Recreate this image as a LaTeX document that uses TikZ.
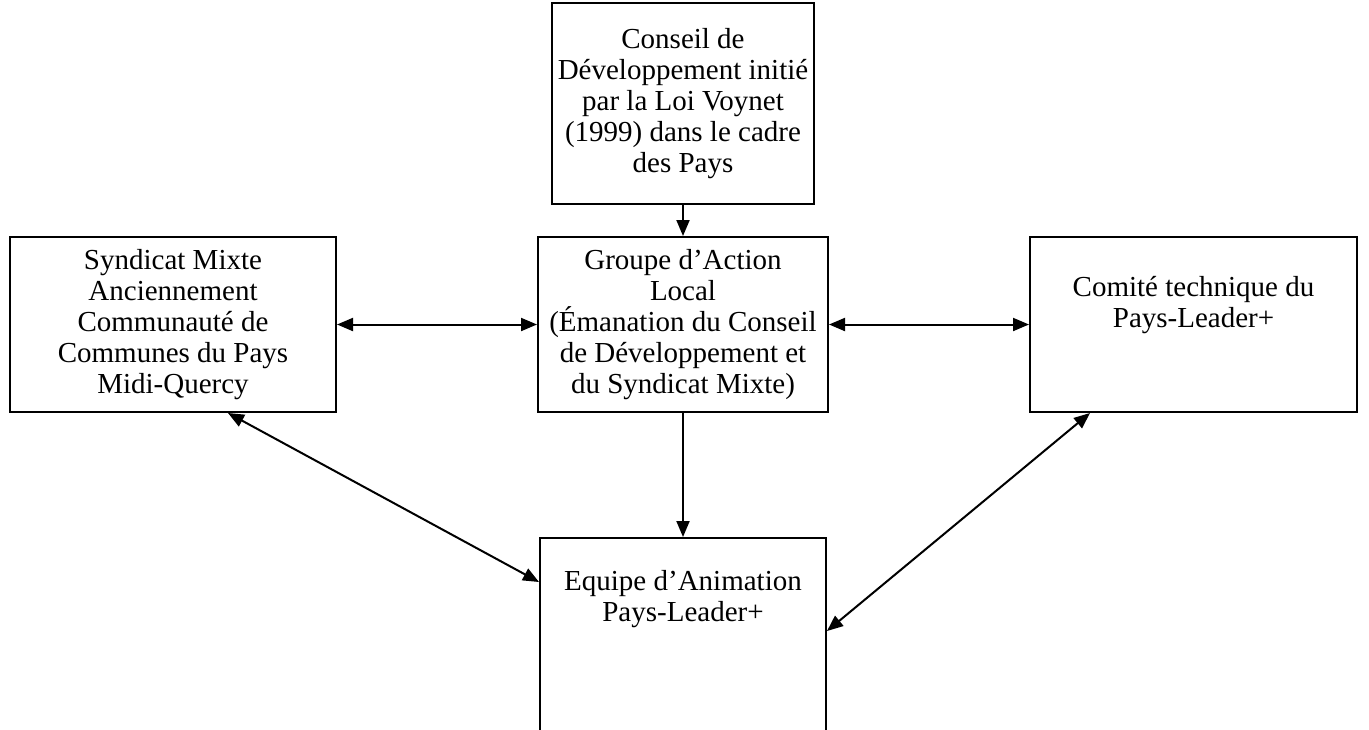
\documentclass[tikz,border=0pt]{standalone}
\usepackage{fontspec}
\setmainfont{Liberation Serif}
\usepackage{tikz}
\usetikzlibrary{arrows.meta}

\begin{document}
\begin{tikzpicture}[>={Triangle[length=8pt,width=6.5pt]},x=0.5pt,y=-0.5pt,
                    line width=1pt]
  \tikzstyle{cadre}=[draw=black,rectangle,align=center,inner sep=0pt,
                     font=\fontsize{14.5pt}{15.5pt}\selectfont]

  \useasboundingbox (0,0) rectangle (1369,729);

  \node[cadre,minimum width=145pt,minimum height=87.5pt] (G) at (683,324.5)
        {Groupe d’Action\\Local\\(Émanation du Conseil\\de Développement et\\du Syndicat Mixte)};
  \node[cadre,minimum width=131pt,minimum height=100.5pt,node distance=110.5pt,above of=G] (C)
        {Conseil de\\Développement initié\\par la Loi Voynet\\(1999) dans le cadre\\des Pays};
  \node[cadre,minimum width=163pt,minimum height=87.5pt,node distance=255pt,left of=G] (S)
        {Syndicat Mixte\\Anciennement\\Communauté de\\Communes du Pays\\Midi-Quercy};
  \node[cadre,minimum width=163.5pt,minimum height=87.5pt,node distance=255.25pt,right of=G] (T)
        {Comité technique du\\Pays-Leader+\\[7pt]};
  \node[cadre,minimum width=143pt,minimum height=135pt,node distance=174.25pt,below of=G] (E)
        {Equipe d’Animation\\Pays-Leader+\\[61.5pt]};

  \path (C) edge[->] (G)
        (G) edge[->] (E)
        (S) edge[<->] (G)
        (G) edge[<->] (T)
        ([xshift=27.5pt]S.south) edge[<->] ([yshift=-22.5pt]E.north west)
        ([xshift=-51.75pt]T.south) edge[<->] ([yshift=-47pt]E.north east);
\end{tikzpicture}
\end{document}
